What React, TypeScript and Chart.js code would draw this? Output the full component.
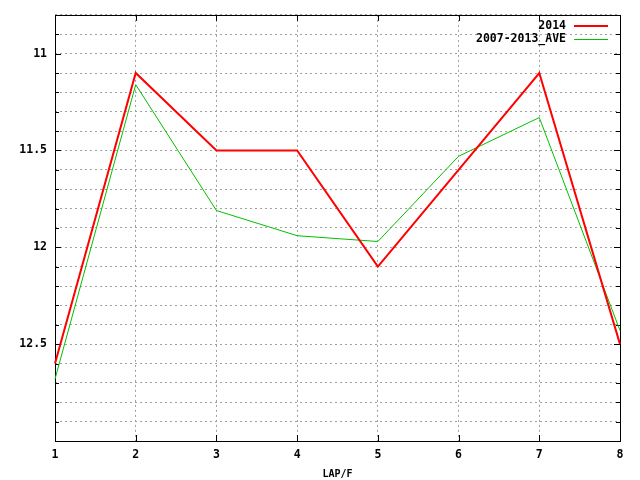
import React, { useEffect, useRef } from "react";
import { Chart, registerables } from "chart.js";

Chart.register(...registerables);

const laps = ["1", "2", "3", "4", "5", "6", "7", "8"];
const series2014 = [12.6, 11.1, 11.5, 11.5, 12.1, 11.6, 11.1, 12.5];
const seriesAve = [12.68, 11.16, 11.81, 11.94, 11.97, 11.53, 11.33, 12.43];
const yLabelValues = [11, 11.5, 12, 12.5];
const seriesNames = ["2014", "2007-2013_AVE"];
const seriesColors = ["#ff0000", "#00c000"];
const xTitle = "LAP/F";

const FONT = "'DejaVu Sans Mono', monospace";

const framePlugin = {
  id: "gnuframe",
  beforeDatasetsDraw(chart: any) {
    const { ctx, chartArea: a, scales } = chart;
    ctx.save();
    ctx.strokeStyle = "#000";
    ctx.lineWidth = 1;
    for (let i = 109; i <= 129; i++) {
      const v = i / 10;
      const y = Math.round(scales.y.getPixelForValue(v)) + 0.5;
      const major = yLabelValues.some((m) => Math.abs(m - v) < 1e-6);
      const len = major ? 6 : 4;
      ctx.beginPath();
      ctx.moveTo(a.left, y);
      ctx.lineTo(a.left + len, y);
      ctx.moveTo(a.right, y);
      ctx.lineTo(a.right - len, y);
      ctx.stroke();
    }
    for (let i = 1; i < laps.length - 1; i++) {
      const x = Math.round(scales.x.getPixelForValue(i)) + 0.5;
      ctx.beginPath();
      ctx.moveTo(x, a.top);
      ctx.lineTo(x, a.top + 6);
      ctx.moveTo(x, a.bottom);
      ctx.lineTo(x, a.bottom - 6);
      ctx.stroke();
    }
    ctx.strokeRect(
      Math.round(a.left) + 0.5,
      Math.round(a.top) + 0.5,
      Math.round(a.right - a.left),
      Math.round(a.bottom - a.top)
    );
    ctx.restore();
  },
  afterDraw(chart: any) {
    const { ctx, chartArea: a } = chart;
    ctx.save();
    ctx.font = "bold 11.5px " + FONT;
    ctx.fillStyle = "#000";
    ctx.textAlign = "right";
    ctx.textBaseline = "middle";
    const textRight = a.right - 54;
    seriesNames.forEach((name, i) => {
      const y = a.top + 11 + i * 13;
      ctx.fillText(name, textRight, y);
      ctx.strokeStyle = seriesColors[i];
      ctx.lineWidth = i === 0 ? 2 : 1;
      ctx.beginPath();
      ctx.moveTo(textRight + 8, Math.round(y) + (i === 0 ? 0 : 0.5));
      ctx.lineTo(textRight + 42, Math.round(y) + (i === 0 ? 0 : 0.5));
      ctx.stroke();
    });
    ctx.restore();
  },
};

export default function App() {
  const ref = useRef<HTMLCanvasElement>(null);
  useEffect(() => {
    if (!ref.current) return;
    const chart = new Chart(ref.current, {
      type: "line",
      data: {
        labels: laps,
        datasets: [
          {
            label: seriesNames[0],
            data: series2014,
            borderColor: seriesColors[0],
            backgroundColor: seriesColors[0],
            borderWidth: 2,
            pointRadius: 0,
            tension: 0,
            clip: false as any,
            order: 0,
          },
          {
            label: seriesNames[1],
            data: seriesAve,
            borderColor: seriesColors[1],
            backgroundColor: seriesColors[1],
            borderWidth: 1,
            pointRadius: 0,
            tension: 0,
            clip: false as any,
            order: 1,
          },
        ],
      },
      options: {
        animation: false,
        responsive: false,
        layout: { padding: { left: 0, right: 20, top: 13, bottom: 0 } },
        plugins: { legend: { display: false }, tooltip: { enabled: false } },
        scales: {
          x: {
            type: "category",
            offset: false,
            grid: { color: "#a0a0a0", drawTicks: false },
            border: { display: false, dash: [2, 3] },
            ticks: {
              color: "#000",
              font: { family: FONT, size: 11.5, weight: "bold" },
              padding: 7,
              maxRotation: 0,
              autoSkip: false,
            },
            title: {
              display: true,
              text: xTitle,
              color: "#000",
              font: { family: FONT, size: 10, weight: "bold" },
              padding: { top: 5, bottom: 0 },
            },
            afterFit: (axis: any) => {
              axis.height = 39;
            },
          },
          y: {
            type: "linear",
            reverse: true,
            min: 10.8,
            max: 13,
            grid: { color: "#a0a0a0", drawTicks: false },
            border: { display: false, dash: [2, 3] },
            ticks: {
              stepSize: 0.1,
              autoSkip: false,
              color: "#000",
              font: { family: FONT, size: 11.5, weight: "bold" },
              padding: 8,
              callback: (v: any) => {
                const r = Math.round(Number(v) * 10) / 10;
                return yLabelValues.some((m) => Math.abs(m - r) < 1e-6) ? String(r) : "";
              },
            },
            afterFit: (axis: any) => {
              axis.width = 55;
            },
          },
        },
      },
      plugins: [framePlugin],
    });
    return () => chart.destroy();
  }, []);
  return (
    <div style={{ position: "absolute", left: 0, top: 0, width: 640, height: 480, background: "#fff" }}>
      <canvas ref={ref} width={640} height={480} />
    </div>
  );
}
